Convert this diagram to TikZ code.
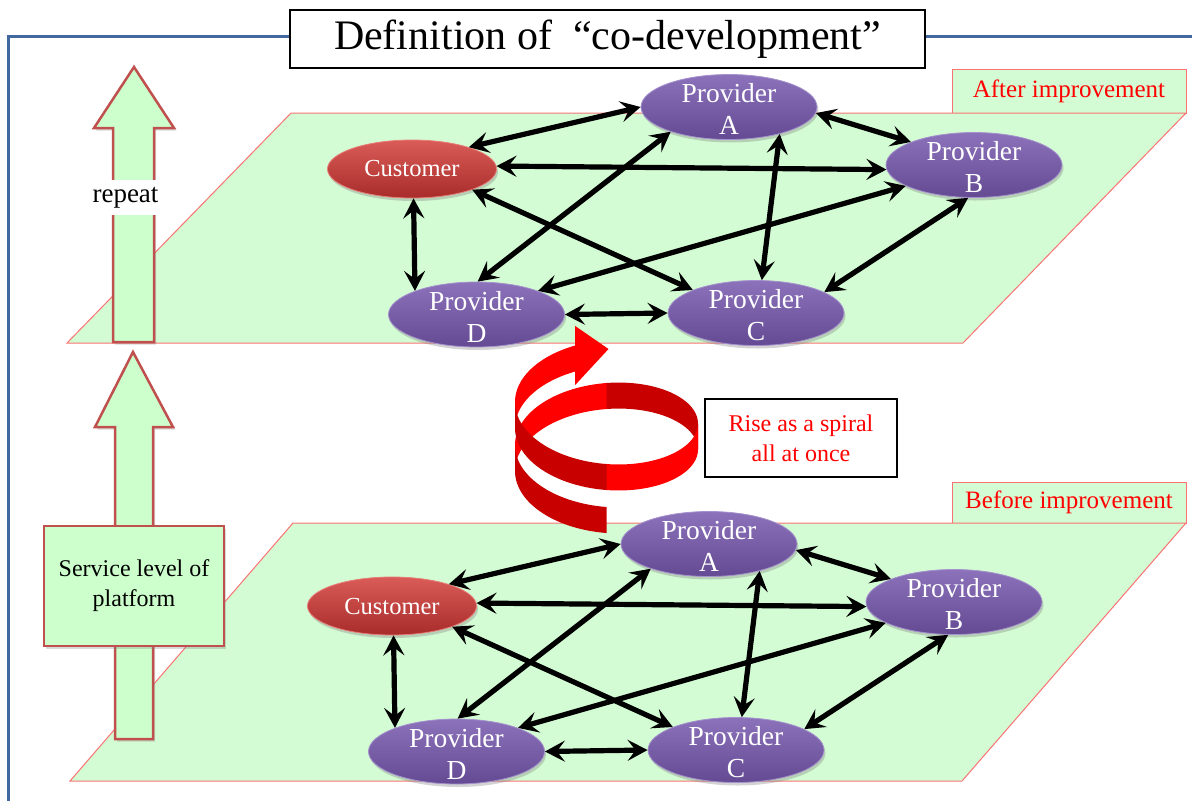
\documentclass[tikz,border=0pt]{standalone}
\usepackage{fontspec}
\setmainfont{Liberation Serif}
\usetikzlibrary{arrows.meta,shapes.geometric,shadows}

\definecolor{frameblue}{RGB}{65,105,160}
\definecolor{plane}{RGB}{212,252,212}
\definecolor{planeedge}{RGB}{250,115,115}
\definecolor{arrowfill}{RGB}{204,255,204}
\definecolor{arrowedge}{RGB}{192,80,77}
\definecolor{pmid}{RGB}{122,92,166}
\definecolor{ptop}{RGB}{140,114,186}
\definecolor{pbot}{RGB}{100,74,146}
\definecolor{prim}{RGB}{165,145,205}
\definecolor{cmid}{RGB}{204,64,60}
\definecolor{ctop}{RGB}{218,92,88}
\definecolor{cbot}{RGB}{168,44,42}
\definecolor{crim}{RGB}{232,125,120}
\definecolor{ribbon}{RGB}{255,0,0}
\definecolor{ribbondark}{RGB}{200,0,0}

% one band of the helical ribbon between two turning angles
\newcommand\spiralband[3]{%
  \fill[#1] plot[domain=#2:#3,samples=40]
      ({606.5-91.5*sin(\x)},{455.75+51.25*cos(\x)-0.1194*\x})
    -- plot[domain=#3:#2,samples=40]
      ({606.5-91.5*sin(\x)},{481.75+51.25*cos(\x)-0.1194*\x}) -- cycle;}

\tikzset{
  bh/.tip={Stealth[length=20pt,width=21pt,inset=8pt]},
  biarrow/.style={line width=5.2pt, black, bh-bh},
  planestyle/.style={fill=plane, draw=planeedge, line width=1pt},
  tab/.style={rectangle, draw=planeedge, fill=plane, line width=1pt,
    minimum width=234pt, inner sep=0pt, text=red,
    font=\fontsize{25}{30}\selectfont},
  bigarrow/.style={fill=arrowfill, draw=arrowedge, line width=2.5pt,
    line join=miter,
    drop shadow={opacity=0.3, shadow xshift=2pt, shadow yshift=-2.5pt}},
  prov/.style={ellipse, minimum width=176pt, minimum height=65pt,
    inner sep=0pt, draw=prim, line width=0.8pt,
    top color=ptop, middle color=pmid, bottom color=pbot,
    drop shadow={opacity=0.35, shadow xshift=1.5pt, shadow yshift=-3pt}},
  cust/.style={ellipse, minimum width=169pt, minimum height=58pt,
    inner sep=0pt, draw=crim, line width=0.8pt,
    top color=ctop, middle color=cmid, bottom color=cbot,
    drop shadow={opacity=0.35, shadow xshift=1.5pt, shadow yshift=-3pt}},
  ptxt/.style={text=white, align=center, inner sep=0pt,
    font=\fontsize{27.5}{32}\selectfont, yshift=-2pt},
  ctxt/.style={text=white, align=center, inner sep=0pt,
    font=\fontsize{24.5}{30}\selectfont},
}

\begin{document}
\begin{tikzpicture}[x=1pt,y=-1pt]
\useasboundingbox (0,0) rectangle (1192,801);

% outer frame
\draw[frameblue, line width=3pt] (1192,36) -- (8,36) -- (8,801);

% title
\node[draw, line width=2pt, fill=white, minimum width=635pt,
  minimum height=58pt, inner sep=0pt,
  font=\fontsize{42}{48}\selectfont] (title) at (607.5,39)
  {Definition of\hspace{0.25em} “co-development”};

% level tabs and planes
\node[tab, minimum height=44pt] (after) at (1069,91) {After improvement};
\node[tab, minimum height=41pt] (before) at (1069,502.5) {Before improvement};
\filldraw[planestyle] (291,113) -- (1186,113) -- (963,343) -- (67,343) -- cycle;
\filldraw[planestyle] (293,523) -- (1186,523) -- (962,781) -- (70,781) -- cycle;

% big upward arrows on the left
\filldraw[bigarrow] (134,67) -- (174,128) -- (154,128) -- (154,342)
  -- (113,342) -- (113,128) -- (94,128) -- cycle;
\node[fill=white, inner xsep=8pt, inner ysep=7pt,
  font=\fontsize{27}{32}\selectfont] (rep) at (125.5,197.5) {repeat};
\filldraw[bigarrow] (133,352) -- (173,427) -- (153,427) -- (153,739)
  -- (115,739) -- (115,427) -- (95,427) -- cycle;
\node[draw=arrowedge, fill=arrowfill, line width=2.5pt,
  minimum width=180pt, minimum height=120pt, align=center,
  font=\fontsize{24}{30}\selectfont,
  drop shadow={opacity=0.3, shadow xshift=2pt, shadow yshift=-2.5pt}]
  (svc) at (134,586) {Service level of\\platform};

% rising spiral: back side first, then front side
\spiralband{ribbon}{90}{180.5}
\spiralband{ribbondark}{180}{270}
\spiralband{ribbon}{450}{521}
\fill[ribbon] (575.2,326) -- (608.5,349) -- (575.2,385) -- cycle;
\spiralband{ribbondark}{0}{90}
\spiralband{ribbon}{270}{360.5}
\spiralband{ribbondark}{360}{450}

\node[draw, line width=2.5pt, fill=white, minimum width=192pt,
  minimum height=78pt, align=center, text=red,
  font=\fontsize{24}{30}\selectfont] (rise) at (801,438)
  {Rise as a spiral\\all at once};

% the two levels of the customer/provider network
\foreach \L/\dx/\dy in {t/0/0, b/-20/437} {
  \begin{scope}[shift={(\dx,\dy)}]
    \node[prov, label={[ptxt, name=\L-a-txt]center:Provider\\A}] (\L-a) at (729,107) {};
    \node[prov, label={[ptxt, name=\L-b-txt]center:Provider\\B}] (\L-b) at (974,165) {};
    \node[prov, label={[ptxt, name=\L-c-txt]center:Provider\\C}] (\L-c) at (756,313) {};
    \node[prov, label={[ptxt, name=\L-d-txt]center:Provider\\D}] (\L-d) at (476.5,314.5) {};
    \node[cust, label={[ctxt, name=\L-cu-txt]center:Customer}] (\L-cu) at (412,169) {};
    \draw[biarrow] (\L-cu.21) -- (\L-a.180);
    \draw[biarrow] (\L-cu.2) -- (\L-b.183);
    \draw[biarrow] (\L-cu.-87) -- (\L-d.159);
    \draw[biarrow] (\L-cu.-19) -- (\L-c.160);
    \draw[biarrow] (\L-a.203) -- (\L-d.88);
    \draw[biarrow] (\L-b.197) -- (\L-d.21);
    \draw[biarrow] (\L-a.-4) -- (\L-b.160);
    \draw[biarrow] (\L-a.-28) -- (\L-c.80);
    \draw[biarrow] (\L-b.260) -- (\L-c.17);
    \draw[biarrow] (\L-d.0) -- (\L-c.180);
  \end{scope}
}
\end{tikzpicture}
\end{document}
